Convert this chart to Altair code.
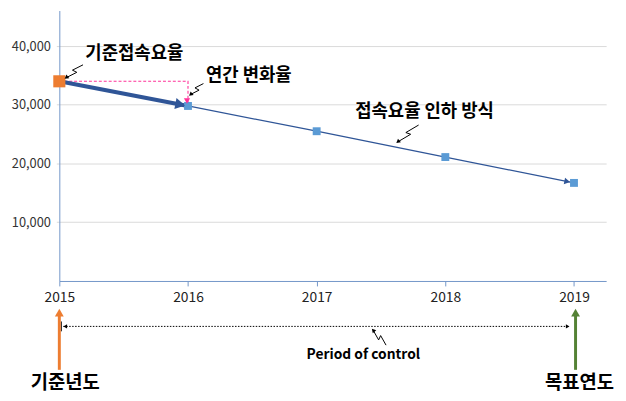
import math
import altair as alt
import pandas as pd

# ---------------- data ----------------
years = [2015, 2016, 2017, 2018, 2019]
values = [34000, 29800, 25500, 21100, 16700]
y_ticks = [10000, 20000, 30000, 40000]
x_ticks = [2015, 2016, 2017, 2018, 2019]

top_labels = ["기준접속요율", "연간 변화율", "접속요율 인하 방식"]
bottom_labels = ["기준년도", "목표연도"]
period_label = ["Period of control"]

# ---------------- layout ----------------
W, H = 554, 274
X0, Y0 = 60, 8          # page pixel of the plot's top-left corner
XMIN, XMAX = 2015, 2019.25
YMAX = 46050
FONT = "Noto Sans CJK KR"
BLUE_AX = "#7396c8"


def dx(px):
    return XMIN + (px - X0) / W * (XMAX - XMIN)


def dy(py):
    return (1 - (py - Y0) / H) * YMAX


def to_px(year):
    return X0 + (year - XMIN) / (XMAX - XMIN) * W


def to_py(v):
    return Y0 + (1 - v / YMAX) * H


xs = alt.Scale(domain=[XMIN, XMAX], nice=False, zero=False)
ys = alt.Scale(domain=[0, YMAX], nice=False)

xaxis = alt.Axis(values=x_ticks, format="d", title=None, grid=False,
                 labelFontSize=14, labelColor="#222222", labelFont=FONT,
                 tickSize=5, tickColor=BLUE_AX, domainColor=BLUE_AX,
                 labelPadding=5, labelFlush=False, labelOverlap=False)
yaxis = alt.Axis(values=y_ticks, format=",d", title=None, grid=True,
                 gridColor="#d9d9d9", labelFontSize=13, labelColor="#333333",
                 labelFont=FONT, tickSize=3, tickColor="#d9d9d9",
                 domainColor=BLUE_AX, labelPadding=6, labelFlush=False)


def X(f):
    return alt.X(f, type="quantitative", scale=xs, axis=xaxis)


def Y(f):
    return alt.Y(f, type="quantitative", scale=ys, axis=yaxis)


df = pd.DataFrame({"year": years, "value": values})

# thin line 2016 -> 2019
thin = alt.Chart(df.iloc[1:]).mark_line(color="#2f5597", strokeWidth=1.3).encode(
    x=X("year"), y=Y("value"))

# thick line 2015 -> 2016
thick = alt.Chart(df.iloc[:2]).mark_line(color="#2f5597", strokeWidth=4).encode(
    x=X("year"), y=Y("value"))

# pink dashed path
pink_df = pd.DataFrame({
    "year": [years[0], years[1], years[1]],
    "value": [values[0], values[0], values[1]],
    "o": [0, 1, 2]})
pink = alt.Chart(pink_df).mark_line(color="#ff3399", strokeWidth=1.1,
                                    strokeDash=[3, 2]).encode(
    x=X("year"), y=Y("value"), order="o:Q")

# squares
orange_sq = alt.Chart(df.iloc[:1]).mark_square(color="#ed7d31", size=150,
                                               opacity=1).encode(
    x=X("year"), y=Y("value"))
blue_sq = alt.Chart(df.iloc[1:]).mark_square(color="#5b9bd5", size=64,
                                             opacity=1).encode(
    x=X("year"), y=Y("value"))


def seg_angle(y0, v0, y1, v1):
    ax = to_px(y1) - to_px(y0)
    ay = to_py(v1) - to_py(v0)
    return math.atan2(ay, ax)


a_thick = seg_angle(years[0], values[0], years[1], values[1])
a_thin = seg_angle(years[3], values[3], years[4], values[4])

head_thick = alt.Chart(df.iloc[1:2]).mark_point(
    shape="triangle-right", filled=True, color="#2f5597", opacity=1, size=130,
    angle=math.degrees(a_thick) % 360,
    xOffset=-8 * math.cos(a_thick), yOffset=-8 * math.sin(a_thick)).encode(
    x=X("year"), y=Y("value"))
head_thin = alt.Chart(df.iloc[4:5]).mark_point(
    shape="triangle-right", filled=True, color="#2f5597", opacity=1, size=45,
    angle=math.degrees(a_thin) % 360,
    xOffset=-7 * math.cos(a_thin), yOffset=-7 * math.sin(a_thin)).encode(
    x=X("year"), y=Y("value"))
head_pink = alt.Chart(df.iloc[1:2]).mark_point(
    shape="triangle-down", filled=True, color="#ff3399", opacity=1, size=40,
    xOffset=-1, yOffset=-5).encode(x=X("year"), y=Y("value"))

# ---------------- annotations ----------------
text_df = pd.DataFrame({
    "t": top_labels + period_label + bottom_labels,
    "x": [dx(136), dx(252), dx(430), dx(368), dx(66), dx(587)],
    "y": [dy(52), dy(74), dy(111), dy(357), dy(385), dy(385)],
    "fs": [18, 18, 18, 14, 19, 19]})
texts = alt.Chart(text_df).mark_text(font=FONT, fontWeight="bold",
                                     color="#000000", baseline="middle",
                                     align="center").encode(
    x=X("x"), y=Y("y"), text="t:N", size=alt.Size("fs:Q", scale=None))

# zigzag callouts (page pixels -> data space)
callouts = [((84, 63), (67, 76)), ((206, 82), (193, 93)),
            ((424, 124), (403, 141)), ((391, 347), (378, 332))]
segs, heads = [], []
for (sx, sy), (tx, ty) in callouts:
    ddx, ddy = tx - sx, ty - sy
    L = math.hypot(ddx, ddy)
    nx, ny = -ddy / L, ddx / L
    A = (sx + 0.55 * ddx + 2.2 * nx, sy + 0.55 * ddy + 2.2 * ny)
    B = (sx + 0.45 * ddx - 2.2 * nx, sy + 0.45 * ddy - 2.2 * ny)
    pts = [(sx, sy), A, B, (tx, ty)]
    for p, q in zip(pts[:-1], pts[1:]):
        segs.append({"x": dx(p[0]), "y": dy(p[1]), "x2": dx(q[0]), "y2": dy(q[1])})
    ang = math.degrees(math.atan2(ddy, ddx)) % 360
    heads.append({"x": dx(tx), "y": dy(ty), "ang": ang})

seg_chart = alt.Chart(pd.DataFrame(segs)).mark_rule(color="#000000",
                                                    strokeWidth=1).encode(
    x=X("x"), y=Y("y"), x2="x2:Q", y2="y2:Q")
zig_heads = alt.Chart(pd.DataFrame(heads)).mark_point(
    shape="triangle-right", filled=True, color="#000000", opacity=1,
    size=22).encode(x=X("x"), y=Y("y"),
                    angle=alt.Angle("ang:Q", scale=None))

# period-of-control dotted double arrow
period_df = pd.DataFrame([{"x": dx(64), "y": dy(328), "x2": dx(576), "y2": dy(328)}])
period_line = alt.Chart(period_df).mark_rule(color="#000000", strokeWidth=1,
                                             strokeDash=[1.5, 1.5]).encode(
    x=X("x"), y=Y("y"), x2="x2:Q", y2="y2:Q")
pstart = alt.Chart(pd.DataFrame([{"x": dx(62), "y": dy(323), "y2": dy(333)}])).mark_rule(
    color="#000000", strokeWidth=1).encode(x=X("x"), y=Y("y"), y2="y2:Q")
period_heads = alt.Chart(pd.DataFrame([
    {"x": dx(66), "y": dy(328), "ang": 180.0},
    {"x": dx(575), "y": dy(328), "ang": 0.0}])).mark_point(
    shape="triangle-right", filled=True, color="#000000", opacity=1,
    size=18).encode(x=X("x"), y=Y("y"), angle=alt.Angle("ang:Q", scale=None))

# base year / target year arrows
yr_df = pd.DataFrame([
    {"x": dx(60), "y": dy(372), "y2": dy(316), "c": "#ed7d31"},
    {"x": dx(583), "y": dy(372), "y2": dy(316), "c": "#548235"}])
yr_shafts = alt.Chart(yr_df).mark_rule(strokeWidth=3).encode(
    x=X("x"), y=Y("y"), y2="y2:Q", color=alt.Color("c:N", scale=None))
yr_heads = alt.Chart(pd.DataFrame([
    {"x": dx(60), "y": dy(314), "c": "#ed7d31"},
    {"x": dx(583), "y": dy(314), "c": "#548235"}])).mark_point(
    shape="triangle-up", filled=True, opacity=1, size=80).encode(
    x=X("x"), y=Y("y"), color=alt.Color("c:N", scale=None))

chart = alt.layer(
    thin, pink, thick, orange_sq, blue_sq, head_thick, head_thin, head_pink,
    texts, seg_chart, zig_heads, period_line, pstart, period_heads,
    yr_shafts, yr_heads
).properties(
    width=W, height=H,
    autosize=alt.AutoSizeParams(type="none"),
    padding={"left": 52, "top": 0, "right": 12, "bottom": 118},
).configure_view(stroke=None)

chart.save("out.html", embed_options={"renderer": "svg", "actions": False})
